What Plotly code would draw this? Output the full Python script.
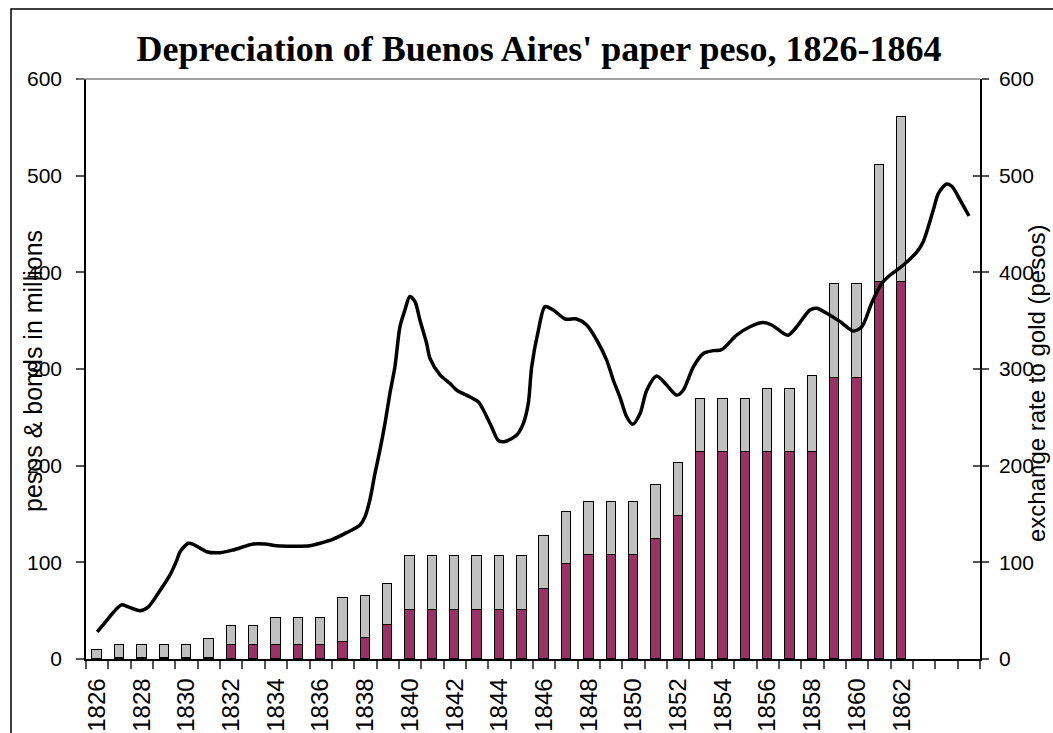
import plotly.graph_objects as go

# ---- data ----
years = list(range(1826, 1863))
lower_series = [0, 1, 1, 1, 1, 1, 14, 14, 14, 14, 14, 18, 22, 35,
                51, 51, 51, 51, 51, 51, 72.5, 98, 108, 108, 108, 124.5, 148,
                214.5, 214.5, 214.5, 214.5, 214.5, 214.5, 291, 291, 390, 390]
upper_series = [9, 14, 14, 14, 14, 19.5, 20.5, 20.5, 28.5, 28.5, 28.5, 45, 43, 43,
                55.5, 55.5, 55.5, 55.5, 55.5, 55.5, 54.5, 54, 54, 54, 54, 55.5, 55,
                54.5, 54.5, 54.5, 64.5, 64.5, 78.5, 97, 97, 121, 171]

rate_x = [1826.00, 1826.43, 1826.87, 1827.10, 1827.39, 1827.92, 1828.29, 1828.73,
          1829.26, 1829.56, 1829.71, 1830.08, 1830.30, 1830.90, 1831.50, 1832.09,
          1832.99, 1833.51, 1834.03, 1835.52, 1835.97, 1836.56, 1837.16, 1837.76,
          1837.98, 1838.20, 1838.43, 1838.65, 1838.88, 1839.10, 1839.32, 1839.55,
          1839.77, 1839.99, 1840.22, 1840.44, 1840.74, 1840.89, 1841.34, 1841.79,
          1842.09, 1842.69, 1843.05, 1843.28, 1843.65, 1843.95, 1844.25, 1844.77,
          1845.07, 1845.29, 1845.44, 1845.74, 1846.04, 1846.41, 1846.94, 1847.45,
          1847.90, 1848.35, 1848.80, 1849.09, 1849.39, 1849.69, 1849.96, 1850.29,
          1850.59, 1851.03, 1851.48, 1851.93, 1852.22, 1852.67, 1853.12, 1853.57,
          1853.94, 1854.61, 1855.21, 1855.80, 1856.18, 1856.70, 1856.92, 1857.30,
          1857.89, 1858.19, 1858.64, 1859.24, 1859.83, 1860.21, 1860.65, 1861.10,
          1861.47, 1862.07, 1862.67, 1862.96, 1863.41, 1863.64, 1864.01, 1864.24,
          1864.61, 1865.01]
rate_y = [28, 40, 52, 56, 54, 50, 54, 68,
          87, 102, 111, 119.7, 118.6, 111, 110, 112.8,
          119, 119, 117.2, 117.2, 119.7, 124, 130.7, 138.6,
          147, 164.5, 192, 216, 244, 275, 302, 344,
          361, 375, 369.6, 350.7, 326.6, 311, 294, 285,
          278, 271, 266, 257.6, 240, 226, 225, 231.7,
          243.8, 264.5, 302, 340, 364.5, 361, 351.7, 351.7,
          345.5, 330, 309, 288.6, 271, 250.6, 242.8, 254,
          278, 292.7, 283.4, 273, 278, 302, 316, 319,
          320, 335, 343.7, 348, 345.5, 337, 335, 343.7,
          361, 362.8, 357.6, 349, 339.3, 343.7, 368, 388.6,
          397, 407.6, 421, 431.7, 464.5, 481.7, 491.4, 489,
          474.8, 458.3]

label_years = list(range(1826, 1863, 2))
y_ticks = [0, 100, 200, 300, 400, 500, 600]

PURPLE = "#993366"
GRAY = "#C0C0C0"
SANS = "Arial, 'Liberation Sans', sans-serif"

fig = go.Figure()
fig.add_trace(go.Bar(x=years, y=lower_series, width=0.42,
                     marker=dict(color=PURPLE, line=dict(color="black", width=1.5)),
                     showlegend=False, hoverinfo="x+y"))
fig.add_trace(go.Bar(x=years, y=upper_series, width=0.42,
                     marker=dict(color=GRAY, line=dict(color="black", width=1.5)),
                     showlegend=False, hoverinfo="x+y"))
fig.add_trace(go.Scatter(x=rate_x, y=rate_y, mode="lines", yaxis="y2",
                         line=dict(color="black", width=3.5, shape="spline", smoothing=0.8),
                         showlegend=False))

W, H = 1053, 733
L, R, T, B = 86, 73, 79, 74
pw, ph = W - L - R, H - T - B

fig.update_layout(
    width=W, height=H,
    barmode="stack", bargap=0,
    paper_bgcolor="white", plot_bgcolor="white",
    margin=dict(l=L, r=R, t=T, b=B, autoexpand=False),
    title=dict(text="<b>Depreciation of Buenos Aires' paper peso, 1826-1864</b>",
               font=dict(family="'Liberation Serif', 'Times New Roman', serif", size=36, color="black"),
               x=(539 - L) / pw, xref="paper", xanchor="center",
               y=1 - 48 / H, yref="container", yanchor="middle"),
    xaxis=dict(range=[1825.5, 1865.5], tickmode="array", tickvals=label_years,
               ticktext=[str(v) for v in label_years], tickangle=-90,
               ticks="outside", ticklen=8, tickcolor="rgba(0,0,0,0)",
               tickfont=dict(family=SANS, size=24, color="black"),
               ticklabelstandoff=0,
               minor=dict(tickmode="linear", tick0=1825.5, dtick=1, ticks="outside",
                          ticklen=8, tickcolor="#555555", tickwidth=1.5, showgrid=False),
               showline=True, linecolor="black", linewidth=1.5,
               showgrid=False, zeroline=False, fixedrange=True),
    yaxis=dict(range=[0, 600], tickvals=y_ticks, ticks="outside", ticklen=8,
               tickcolor="#555555", tickwidth=1.5,
               tickfont=dict(family=SANS, size=21, color="black"),
               ticklabelstandoff=10,
               showline=True, linecolor="black", linewidth=1.5,
               showgrid=False, zeroline=False),
    yaxis2=dict(range=[0, 600], tickvals=y_ticks, overlaying="y", side="right",
                ticks="outside", ticklen=7, tickcolor="#555555", tickwidth=1.5,
                tickfont=dict(family=SANS, size=21, color="black"),
                ticklabelstandoff=6,
                showline=True, linecolor="black", linewidth=1.5,
                showgrid=False, zeroline=False),
    yaxis3=dict(range=[0, 600], tickvals=y_ticks, overlaying="y", side="right",
                anchor="x", ticks="inside", ticklen=7, tickcolor="#555555", tickwidth=1.5,
                showticklabels=False, showline=False, showgrid=False, zeroline=False),
)

# invisible trace so yaxis3 renders
fig.add_trace(go.Scatter(x=[None], y=[None], yaxis="y3", showlegend=False, hoverinfo="skip"))

# axis titles
fig.add_annotation(text="pesos & bonds in millions", textangle=-90,
                   xref="paper", yref="paper", x=(33 - L) / pw, y=(H - B - 371) / ph,
                   xanchor="center", yanchor="middle", showarrow=False,
                   font=dict(family=SANS, size=25, color="black"))
fig.add_annotation(text="exchange rate to gold (pesos)", textangle=-90,
                   xref="paper", yref="paper", x=(1037 - L) / pw, y=(H - B - 383) / ph,
                   xanchor="center", yanchor="middle", showarrow=False,
                   font=dict(family=SANS, size=24, color="black"))

# plot-area top border (gray) and outer chart border
fig.add_shape(type="line", xref="paper", yref="paper", x0=-8 / pw, x1=1, y0=1, y1=1,
              line=dict(color="#808080", width=1.5))
fig.add_shape(type="rect", xref="paper", yref="paper",
              x0=(11 - L) / pw, x1=3, y0=-3, y1=(H - B - 9) / ph,
              line=dict(color="black", width=1.5), fillcolor="rgba(0,0,0,0)", layer="below")

fig.write_html("out.html", config={"displayModeBar": False},
               post_script="document.body.style.margin='0';document.body.style.padding='0';"
                           "document.body.style.overflow='hidden';")
